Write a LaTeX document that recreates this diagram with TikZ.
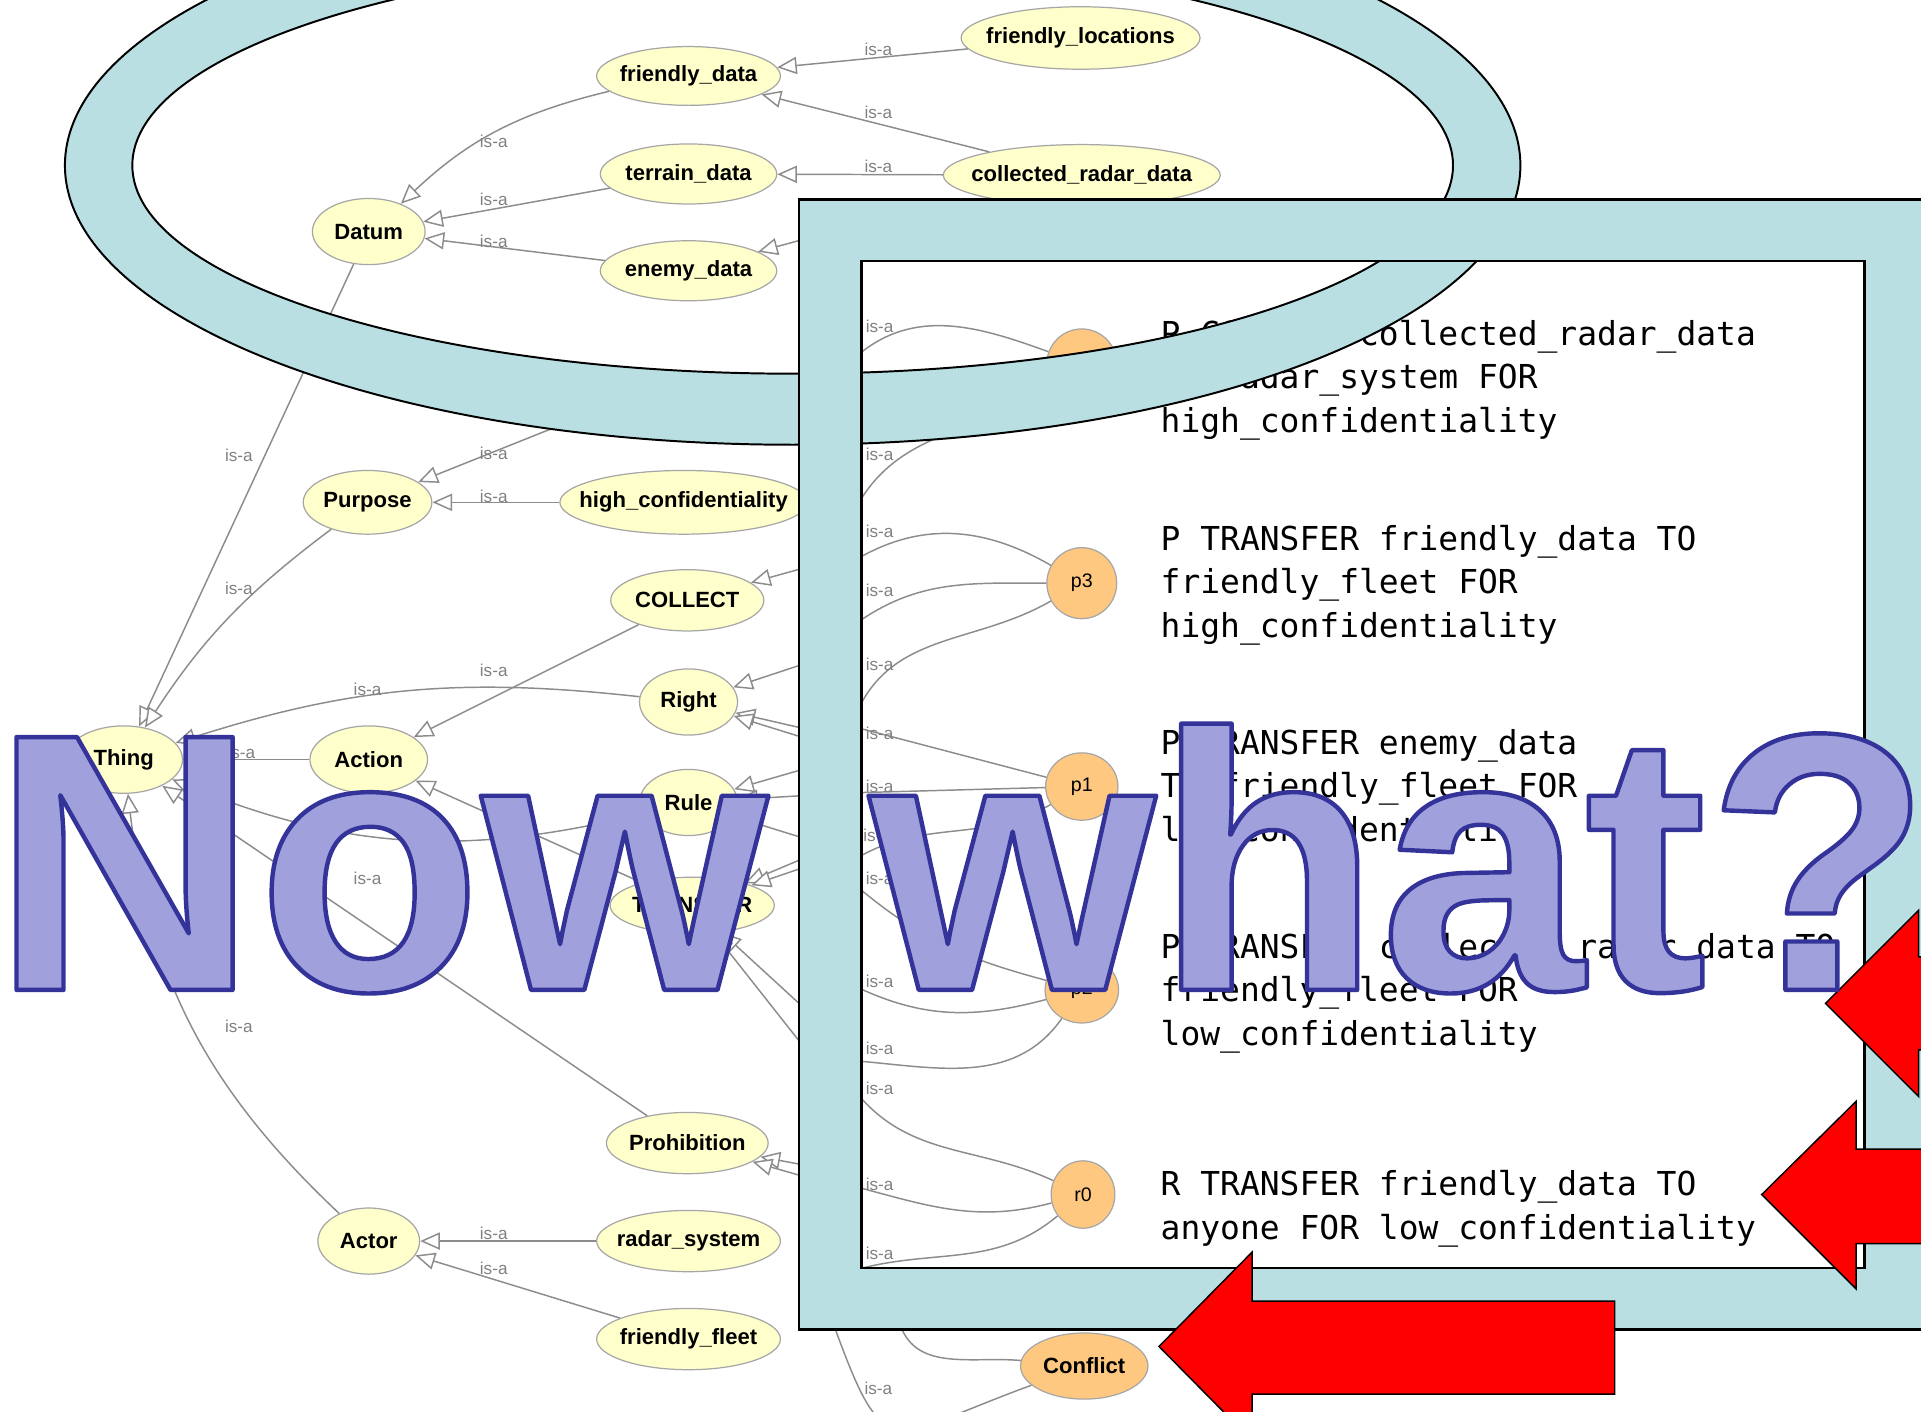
\documentclass[tikz,border=0pt]{standalone}
\usepackage{fontspec}
\setmainfont{Liberation Sans}
\newfontfamily\ontofont{Liberation Sans}
\newfontfamily\codefont{DejaVu Sans Mono}
\usetikzlibrary{shapes,arrows.meta}

\definecolor{clsfill}{HTML}{FFFFCC}
\definecolor{instfill}{HTML}{FFC880}
\definecolor{ringblue}{HTML}{B9DFE2}
\definecolor{nwfill}{HTML}{A0A0DC}
\definecolor{edgegray}{HTML}{8C8C8C}

\newcommand\outlined[1]{%
  \special{pdf:literal direct 0.2 0.2 0.6 RG 1.8 w 1 j 2 Tr}#1%
  \special{pdf:literal direct 0 Tr}}

\tikzset{
  cls/.style={ellipse, draw=gray!70, fill=clsfill, inner sep=0pt, line width=0.5pt,
    font=\ontofont\bfseries\fontsize{9}{10}\selectfont,
    execute at begin node={\hbox to 0pt\bgroup\hss},
    execute at end node={\hss\egroup}},
  inst/.style={cls, fill=instfill, font=\ontofont\fontsize{8}{9}\selectfont},
  isa/.style={edgegray, line width=0.6pt, -{Triangle[length=8pt, width=7pt, fill=white]}},
  isalbl/.style={font=\ontofont\fontsize{7}{8}\selectfont, text=gray, inner sep=0pt},
  policy/.style={font=\codefont\fontsize{13.45}{17.75}\selectfont, align=left,
    anchor=north west, inner sep=0pt},
  bigarrow/.style={fill=red, draw=black, line width=0.6pt},
}

\begin{document}
\begin{tikzpicture}[x=0.5pt, y=-0.5pt]
\useasboundingbox (0,0) rectangle (1568,1152);

% 类
\node[cls, minimum width=97.5pt, minimum height=25.5pt] (floc) at (882,31) {friendly\_locations};
\node[cls, minimum width=75pt, minimum height=24pt] (fdata) at (562,62) {friendly\_data};
\node[cls, minimum width=113pt, minimum height=25pt] (crd) at (883,143) {collected\_radar\_data};
\node[cls, minimum width=72pt, minimum height=24.5pt] (tdata) at (562,142) {terrain\_data};
\node[cls, minimum width=72pt, minimum height=24.5pt] (edata) at (562,221) {enemy\_data};
\node[cls, minimum width=46pt, minimum height=27pt] (datum) at (301,189) {Datum};
\node[cls, minimum width=52.5pt, minimum height=26pt] (purpose) at (300,410) {Purpose};
\node[cls, minimum width=101pt, minimum height=26pt] (hconf) at (558,410) {high\_confidentiality};
\node[cls, minimum width=62.5pt, minimum height=25pt] (collect) at (561,490) {COLLECT};
\node[cls, minimum width=40pt, minimum height=27pt] (right) at (562,573) {Right};
\node[cls, minimum width=40pt, minimum height=27pt] (rule) at (562,655) {Rule};
\node[cls, minimum width=67pt, minimum height=23pt] (transfer) at (565,739) {TRANSFER};
\node[cls, minimum width=48pt, minimum height=27.5pt] (thing) at (101,620) {Thing};
\node[cls, minimum width=48pt, minimum height=27.5pt] (action) at (301,620) {Action};
\node[cls, minimum width=66pt, minimum height=25pt] (prohib) at (561,933) {Prohibition};
\node[cls, minimum width=41.5pt, minimum height=27pt] (actor) at (301,1013) {Actor};
\node[cls, minimum width=75pt, minimum height=25pt] (radar) at (562,1013) {radar\_system};
\node[cls, minimum width=75pt, minimum height=25pt] (ffleet) at (562,1093) {friendly\_fleet};

% 实例
\node[cls, fill=instfill, minimum width=52pt, minimum height=27pt] (conflict) at (885,1115) {Conflict};
\node[inst, minimum width=28.5pt, minimum height=28.5pt] (pzero) at (883,297) {};
\node[inst, minimum width=28.5pt, minimum height=29pt] (pthree) at (883,476) {p3};
\node[inst, minimum width=29.5pt, minimum height=27.5pt] (pone) at (883,642) {p1};
\node[inst, minimum width=30pt, minimum height=27pt] (ptwo) at (883,808) {p2};
\node[inst, minimum width=26pt, minimum height=27.5pt] (rzero) at (884,975) {r0};

% 框下面的点
\coordinate (kenemy) at (690,186);
\coordinate (kpurp) at (500,330);
\coordinate (ka1) at (700,290);  \coordinate (ka2) at (662,462);
\coordinate (kb1) at (700,412);  \coordinate (kb2) at (662,540);
\coordinate (kc1) at (700,456);  \coordinate (kc2) at (662,596);
\coordinate (kd1) at (700,508);  \coordinate (kd2) at (662,698);
\coordinate (ke1) at (700,580);  \coordinate (ke2) at (662,604);
\coordinate (kf1) at (700,594);  \coordinate (kf2) at (662,626);
\coordinate (kg1) at (700,647);  \coordinate (kg2) at (662,649);
\coordinate (kh1) at (700,700);  \coordinate (kh2) at (662,706);
\coordinate (ki1) at (700,724);  \coordinate (ki2) at (662,686);
\coordinate (kj1) at (700,806);  \coordinate (kj2) at (662,828);
\coordinate (kk1) at (700,866);  \coordinate (kk2) at (662,862);
\coordinate (kl1) at (700,893);  \coordinate (kl2) at (662,952);
\coordinate (km1) at (700,969);  \coordinate (km2) at (662,962);
\coordinate (kn1) at (700,1036); \coordinate (kn2) at (690,1070);
\coordinate (kq1) at (735,1082); \coordinate (kq2) at (700,1060);
\coordinate (kr1) at (680,1080); \coordinate (kr2) at (690,1050);

% is-a 边
\draw[isa] (floc) -- (fdata);
\draw[isa] (crd) -- (fdata);
\draw[isa] (crd) -- (tdata);
\draw[isa] (kenemy) -- (edata);
\draw[isa] (fdata) to[bend right=15] (datum);
\draw[isa] (tdata) -- (datum);
\draw[isa] (edata) -- (datum);
\draw[isa] (datum) -- (thing);
\draw[isa] (purpose) to[bend right=10] (thing);
\draw[isa] (kpurp) -- (purpose);
\draw[isa] (hconf) -- (purpose);
\draw[isa] (collect) -- (action);
\draw[isa] (right) to[bend right=12] (thing);
\draw[isa] (action) -- (thing);
\draw[isa] (rule) to[bend left=18] (thing);
\draw[isa] (transfer) -- (action);
\draw[isa] (prohib) -- (thing);
\draw[isa] (actor) to[bend left=20] (thing);
\draw[isa] (radar) -- (actor);
\draw[isa] (ffleet) -- (actor);

% 实例的边
\draw[isa] (pzero) to[out=160,in=40] (ka1) -- (ka2) -- (collect);
\draw[isa] (pzero) to[out=215,in=60] (kb1) -- (kb2) -- (right);
\draw[isa] (pthree) to[out=150,in=30] (kc1) -- (kc2) -- (right);
\draw[isa] (pthree) to[out=180,in=35] (kd1) -- (kd2) -- (transfer);
\draw[isa] (pthree) to[out=210,in=65] (ke1) -- (ke2) -- (right);
\draw[isa] (pone) -- (kf1) -- (kf2) -- (rule);
\draw[isa] (pone) -- (kg1) -- (kg2) -- (rule);
\draw[isa] (pone) to[out=210,in=30] (kh1) -- (kh2) -- (transfer);
\draw[isa] (ptwo) to[out=165,in=-40] (ki1) -- (ki2) -- (rule);
\draw[isa] (ptwo) to[out=195,in=-25] (kj1) -- (kj2) -- (transfer);
\draw[isa] (ptwo) to[out=235,in=-5] (kk1) -- (kk2) -- (transfer);
\draw[isa] (rzero) to[out=155,in=-50] (kl1) -- (kl2) -- (prohib);
\draw[isa] (rzero) to[out=195,in=-15] (km1) -- (km2) -- (prohib);
\draw[isa] (rzero) to[out=220,in=15] (kn1) -- (kn2);
\draw[isa] (conflict) to[out=175,in=-70] (kq1) -- (kq2);
\draw[isa] (conflict) to[out=200,in=-70,looseness=1.9] (kr1) -- (kr2);

% 标记文字
\node[isalbl] (lbla) at (717,40) {is-a};
\node[isalbl] (lblb) at (717,92) {is-a};
\node[isalbl] (lblc) at (717,136) {is-a};
\node[isalbl] (lbld) at (403,115) {is-a};
\node[isalbl] (lble) at (403,163) {is-a};
\node[isalbl] (lblf) at (403,197) {is-a};
\node[isalbl] (lblg) at (195,372) {is-a};
\node[isalbl] (lblh) at (403,370) {is-a};
\node[isalbl] (lbli) at (403,405) {is-a};
\node[isalbl] (lblj) at (195,480) {is-a};
\node[isalbl] (lblk) at (403,547) {is-a};
\node[isalbl] (lbll) at (300,563) {is-a};
\node[isalbl] (lblm) at (197,614) {is-a};
\node[isalbl] (lbln) at (300,717) {is-a};
\node[isalbl] (lblo) at (195,838) {is-a};
\node[isalbl] (lblp) at (403,1007) {is-a};
\node[isalbl] (lblq) at (403,1035) {is-a};
\node[isalbl] (lblr) at (718,266) {is-a};
\node[isalbl] (lbls) at (718,371) {is-a};
\node[isalbl] (lblt) at (718,434) {is-a};
\node[isalbl] (lblu) at (718,482) {is-a};
\node[isalbl] (lblv) at (718,542) {is-a};
\node[isalbl] (lblw) at (718,599) {is-a};
\node[isalbl] (lblx) at (718,642) {is-a};
\node[isalbl] (lbly) at (716,682) {is-a};
\node[isalbl] (lblz) at (718,717) {is-a};
\node[isalbl] (lblaa) at (718,801) {is-a};
\node[isalbl] (lblab) at (718,856) {is-a};
\node[isalbl] (lblac) at (718,888) {is-a};
\node[isalbl] (lblad) at (718,967) {is-a};
\node[isalbl] (lblae) at (718,1023) {is-a};
\node[isalbl] (lblaf) at (717,1133) {is-a};

% 策略
\node[policy] (polzero) at (947,261) {P COLLECT collected\_radar\_data\\BY radar\_system FOR\\high\_confidentiality};
\node[policy] (polthree) at (947,428) {P TRANSFER friendly\_data TO\\friendly\_fleet FOR\\high\_confidentiality};
\node[policy] (polone) at (947,595) {P TRANSFER enemy\_data\\TO friendly\_fleet FOR\\low\_confidentiality};
\node[policy] (poltwo) at (947,761) {P TRANSFER collected\_radar\_data TO\\friendly\_fleet FOR\\low\_confidentiality};
\node[policy] (polr) at (947,955) {R TRANSFER friendly\_data TO\\anyone FOR low\_confidentiality};

% 圆环
\fill[ringblue, even odd rule] (647,135) ellipse [x radius=594, y radius=228]
  (647,135) ellipse [x radius=539, y radius=170];
\draw[line width=0.8pt] (647,135) ellipse [x radius=594, y radius=228];
\draw[line width=0.8pt] (647,135) ellipse [x radius=539, y radius=170];

% 方框
\fill[ringblue, even odd rule] (652,163) rectangle (1600,1085) (703,213) rectangle (1522,1035);
\draw[line width=1pt] (652,163) rectangle (1600,1085);
\draw[line width=1pt] (703,213) rectangle (1522,1035);

% 画箭头
\filldraw[bigarrow] (946,1099) -- (1022,1022) -- (1022,1062) -- (1318,1062) -- (1318,1138)
  -- (1022,1138) -- (1022,1176) -- cycle;
\filldraw[bigarrow] (1438,975) -- (1515,899) -- (1515,938) -- (1600,938) -- (1600,1015)
  -- (1515,1015) -- (1515,1052) -- cycle;
\filldraw[bigarrow] (1490,819) -- (1566,743) -- (1566,781) -- (1600,781) -- (1600,857)
  -- (1566,857) -- (1566,895) -- cycle;

% Now what?
\node[anchor=base west, inner sep=0pt, text=nwfill,
  font=\ontofont\bfseries\fontsize{150}{150}\selectfont] (nowwhat) at (-7,808) {\outlined{Now what?}};

\end{tikzpicture}
\end{document}
